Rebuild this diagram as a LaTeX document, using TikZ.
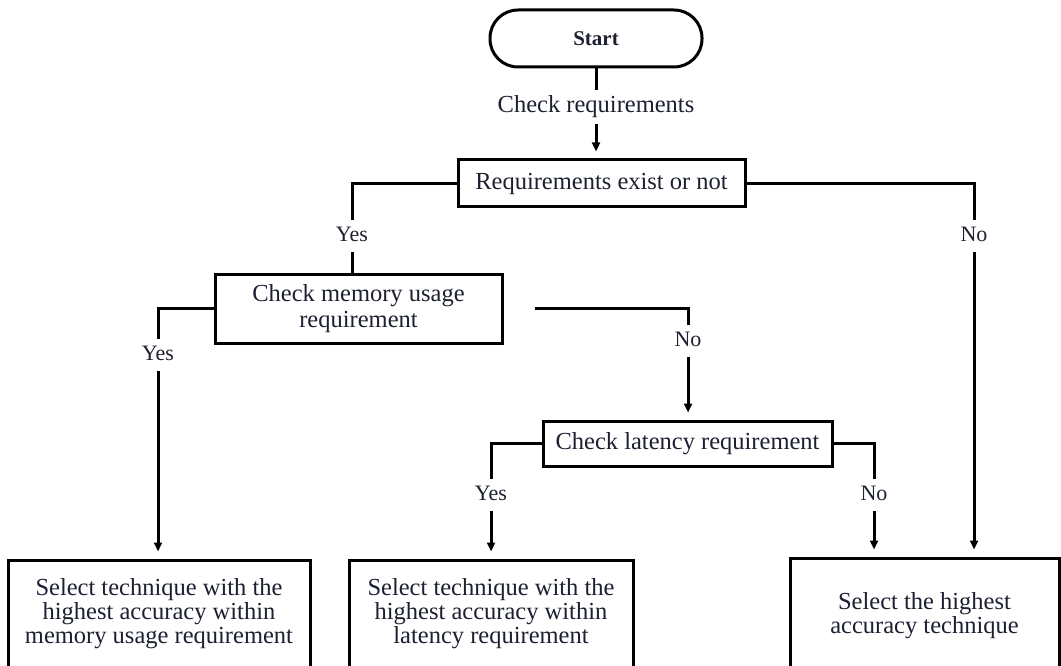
\documentclass[tikz,border=0pt]{standalone}
\usepackage{fontspec}
\setmainfont{Liberation Serif}
\usepackage{xcolor}
\usepackage{tikz}
\usetikzlibrary{arrows.meta, positioning, calc}
\definecolor{ink}{RGB}{28,32,48}

\begin{document}
\begin{tikzpicture}[
    x=1pt, y=-1pt,
    line width=3pt,
    every node/.style={text=ink},
    box/.style={rectangle, draw, line width=3pt, align=center, font=\fontsize{24.5}{24}\selectfont},
    lbl/.style={font=\fontsize{22}{22}\selectfont, inner sep=5pt, text height=15pt, text depth=4pt},
    arr/.style={-{Triangle[length=9pt,width=8pt]}, shorten >=7pt}
  ]
  \useasboundingbox (0,0) rectangle (1061,666);
  \node[box, rounded corners=28pt, minimum width=212pt, minimum height=57pt, font=\fontsize{21}{24}\selectfont\bfseries] (start) at (596,38.5) {Start};
  \node[lbl, font=\fontsize{24.5}{26}\selectfont, text height=16pt, text depth=5pt] (chk) at (596,107) {Check requirements};
  \node[box, minimum width=287pt, minimum height=47pt] (reqs) at (601.5,183.5) {Requirements exist or not};
  \node[lbl] (yesA) at (352,236) {Yes};
  \node[lbl] (noA) at (974,236) {No};
  \node[box, minimum width=287pt, minimum height=69pt, font=\fontsize{24.5}{26}\selectfont] (memchk) at (358.5,308.5) {Check memory usage\\requirement};
  \node[lbl] (yesB) at (158,355) {Yes};
  \node[lbl] (noB) at (688,341) {No};
  \node[box, minimum width=289pt, minimum height=45pt] (latchk) at (687.5,443.5) {Check latency requirement};
  \node[lbl] (yesC) at (491,495) {Yes};
  \node[lbl] (noC) at (874,495) {No};
  \node[box, minimum width=302pt, minimum height=108pt] (memsel) at (159,614) {Select technique with the\\highest accuracy within\\memory usage requirement};
  \node[box, minimum width=284pt, minimum height=108pt] (latsel) at (491,614) {Select technique with the\\highest accuracy within\\latency requirement};
  \node[box, minimum width=269pt, minimum height=116pt] (accsel) at (924.5,616) {Select the highest\\accuracy technique};

  \draw (start) -- (chk);
  \draw[arr] (chk) -- (chk |- reqs.north);
  \draw (reqs.west) -| (yesA);
  \draw (yesA) -- (yesA |- memchk.north);
  \draw (reqs.east) -| (noA);
  \draw[arr] (noA) -- (noA |- accsel.north);
  \draw (memchk.west) -| (yesB);
  \draw[arr] (yesB) -- (yesB |- memsel.north);
  \draw ([xshift=31pt]memchk.east) -| (noB);
  \draw[arr] (noB) -- (noB |- latchk.north);
  \draw (latchk.west) -| (yesC);
  \draw[arr] (yesC) -- (yesC |- latsel.north);
  \draw (latchk.east) -| (noC);
  \draw[arr] (noC) -- (noC |- accsel.north);
\end{tikzpicture}
\end{document}
